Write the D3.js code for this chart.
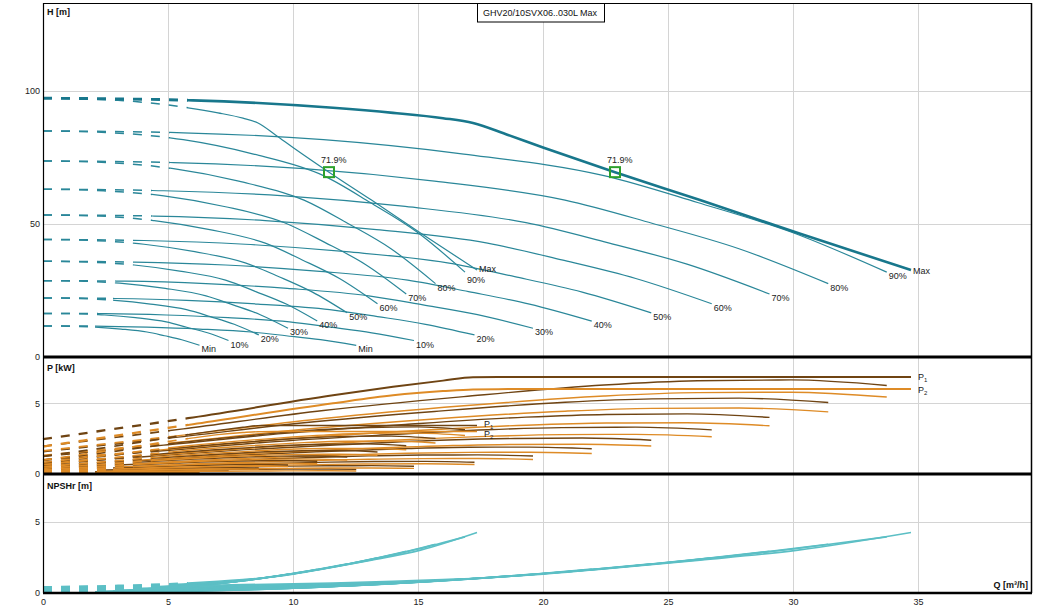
<!DOCTYPE html>
<html>
<head>
<meta charset="utf-8">
<script src="https://cdn.jsdelivr.net/npm/d3@7"></script>
<style>
body { margin: 0; background: #fff; }
svg { display: block; }
text { font-family: "Liberation Sans", Arial, sans-serif; }
</style>
</head>
<body>
<div id="chart"></div>
<script>
// speed levels, Min .. Max
var speeds = ["Min", "10%", "20%", "30%", "40%", "50%", "60%", "70%", "80%", "90%", "Max"];
// flow where the dashed (below minimum flow) part ends
var qStart = [2.08, 2.2, 2.8, 2.9, 3.6, 3.6, 4.36, 4.36, 5.08, 5.08, 5.8];

// flow points, one pump running [m3/h]
var qOne = [
    [0, 1.04, 2.08, 3.12, 4.16, 4.86, 5.55, 6.26],
    [0, 1.23, 2.47, 3.70, 4.93, 5.75, 6.58, 7.42],
    [0, 1.43, 2.87, 4.30, 5.74, 6.69, 7.65, 8.63],
    [0, 1.63, 3.26, 4.89, 6.52, 7.60, 8.69, 9.80],
    [0, 1.82, 3.65, 5.47, 7.30, 8.51, 9.73, 10.97],
    [0, 2.02, 4.04, 6.07, 8.09, 9.44, 10.78, 12.17],
    [0, 2.22, 4.45, 6.67, 8.89, 10.37, 11.86, 13.38],
    [0, 2.42, 4.83, 7.25, 9.66, 11.27, 12.88, 14.53],
    [0, 2.61, 5.22, 7.83, 10.44, 12.18, 13.92, 15.70],
    [0, 2.81, 5.61, 8.42, 11.22, 13.09, 14.96, 16.88],
    [0, 3, 5.8, 7, 8, 8.6, 9.3, 10, 11.44, 13.14, 15.1, 17.36]
];
// flow points, two pumps running [m3/h]
var qTwo = [
    [0, 2.08, 4.16, 6.25, 8.33, 9.72, 11.1, 12.53],
    [0, 2.47, 4.93, 7.40, 9.86, 11.51, 13.15, 14.84],
    [0, 2.87, 5.74, 8.60, 11.47, 13.38, 15.30, 17.26],
    [0, 3.26, 6.52, 9.77, 13.03, 15.20, 17.38, 19.60],
    [0, 3.65, 7.30, 10.94, 14.59, 17.02, 19.46, 21.95],
    [0, 4.04, 8.09, 12.13, 16.18, 18.87, 21.57, 24.33],
    [0, 4.45, 8.89, 13.34, 17.78, 20.75, 23.71, 26.75],
    [0, 4.83, 9.66, 14.49, 19.32, 22.54, 25.76, 29.06],
    [0, 5.22, 10.44, 15.66, 20.88, 24.36, 27.84, 31.41],
    [0, 5.61, 11.22, 16.83, 22.44, 26.18, 29.92, 33.75],
    [0, 6, 11.6, 14, 16, 17.2, 18.6, 20, 22.88, 26.28, 30.2, 34.72]
];
// head [m] at those points (same for one and two pumps)
var head = [
    [11.7, 11.6, 11.2, 10.5, 9.4, 8.0, 6.5, 4.4],
    [16.4, 16.3, 15.8, 14.8, 13.2, 11.2, 9.1, 6.2],
    [22.2, 22.0, 21.3, 19.9, 17.8, 15.2, 12.3, 8.3],
    [28.7, 28.5, 27.6, 25.8, 23.0, 19.6, 15.9, 10.8],
    [36.0, 35.7, 34.6, 32.3, 28.9, 24.6, 19.9, 13.5],
    [44.2, 43.8, 42.4, 39.6, 35.4, 30.2, 24.4, 16.6],
    [53.4, 53.0, 51.3, 47.9, 42.8, 36.5, 29.5, 20.0],
    [63.1, 62.5, 60.6, 56.6, 50.5, 43.1, 34.9, 23.7],
    [73.7, 73.1, 70.8, 66.1, 59.0, 50.3, 40.7, 27.6],
    [85.0, 84.3, 81.7, 76.3, 68.2, 58.1, 47.0, 31.9],
    [97.3, 96.5, 93.7, 91.8, 89.8, 88.0, 83.5, 78.8, 69.5, 59.0, 46.6, 32.7]
];
// power P1 / P2 [kW], one pump
var p1One = [
    [0.05, 0.09, 0.12, 0.15, 0.17, 0.18, 0.18, 0.17],
    [0.09, 0.14, 0.20, 0.24, 0.28, 0.29, 0.29, 0.28],
    [0.13, 0.21, 0.30, 0.37, 0.42, 0.44, 0.44, 0.42],
    [0.20, 0.32, 0.46, 0.56, 0.64, 0.67, 0.68, 0.64],
    [0.28, 0.46, 0.64, 0.78, 0.90, 0.94, 0.95, 0.90],
    [0.37, 0.61, 0.86, 1.05, 1.20, 1.26, 1.27, 1.20],
    [0.49, 0.79, 1.12, 1.36, 1.57, 1.64, 1.66, 1.56],
    [0.63, 1.02, 1.44, 1.75, 2.01, 2.10, 2.13, 2.00],
    [0.79, 1.29, 1.81, 2.21, 2.54, 2.66, 2.68, 2.52],
    [0.98, 1.59, 2.25, 2.74, 3.15, 3.29, 3.33, 3.13],
    [1.24, 2.0, 2.78, 3.08, 3.30, 3.42, 3.43, 3.43, 3.43, 3.43, 3.43, 3.43]
];
var p2One = [
    [0.03, 0.05, 0.08, 0.09, 0.11, 0.11, 0.11, 0.11],
    [0.06, 0.10, 0.14, 0.18, 0.20, 0.21, 0.21, 0.20],
    [0.10, 0.17, 0.24, 0.30, 0.34, 0.36, 0.36, 0.34],
    [0.16, 0.26, 0.37, 0.46, 0.52, 0.55, 0.55, 0.52],
    [0.22, 0.37, 0.52, 0.64, 0.74, 0.77, 0.77, 0.73],
    [0.30, 0.50, 0.71, 0.88, 1.00, 1.05, 1.05, 0.99],
    [0.40, 0.66, 0.95, 1.17, 1.33, 1.39, 1.40, 1.32],
    [0.51, 0.86, 1.23, 1.51, 1.73, 1.80, 1.81, 1.71],
    [0.66, 1.11, 1.58, 1.94, 2.22, 2.32, 2.33, 2.19],
    [0.82, 1.37, 1.96, 2.41, 2.75, 2.88, 2.89, 2.72],
    [0.97, 1.76, 2.50, 2.78, 2.93, 2.99, 3.0, 3.0, 3.0, 3.0, 3.0, 3.0]
];
// power P1 / P2 [kW], two pumps
var p1Two = [
    [0.10, 0.17, 0.24, 0.29, 0.33, 0.35, 0.35, 0.33],
    [0.17, 0.28, 0.40, 0.48, 0.56, 0.58, 0.59, 0.55],
    [0.26, 0.43, 0.60, 0.73, 0.84, 0.88, 0.89, 0.83],
    [0.40, 0.65, 0.91, 1.11, 1.28, 1.34, 1.35, 1.27],
    [0.56, 0.91, 1.29, 1.57, 1.80, 1.89, 1.90, 1.79],
    [0.75, 1.22, 1.72, 2.09, 2.40, 2.51, 2.54, 2.39],
    [0.98, 1.59, 2.24, 2.73, 3.13, 3.28, 3.31, 3.12],
    [1.25, 2.04, 2.87, 3.50, 4.02, 4.21, 4.25, 4.00],
    [1.58, 2.57, 3.62, 4.42, 5.07, 5.31, 5.36, 5.05],
    [1.96, 3.19, 4.49, 5.47, 6.29, 6.59, 6.65, 6.26],
    [2.47, 4.0, 5.56, 6.16, 6.6, 6.84, 6.86, 6.86, 6.86, 6.86, 6.86, 6.86]
];
var p2Two = [
    [0.06, 0.11, 0.15, 0.19, 0.21, 0.22, 0.23, 0.21],
    [0.12, 0.20, 0.29, 0.35, 0.40, 0.42, 0.42, 0.40],
    [0.20, 0.34, 0.48, 0.60, 0.68, 0.71, 0.72, 0.67],
    [0.31, 0.52, 0.74, 0.91, 1.04, 1.09, 1.10, 1.03],
    [0.44, 0.73, 1.05, 1.29, 1.47, 1.53, 1.54, 1.45],
    [0.59, 1.00, 1.43, 1.75, 2.00, 2.09, 2.10, 1.98],
    [0.79, 1.33, 1.90, 2.33, 2.66, 2.78, 2.80, 2.63],
    [1.02, 1.72, 2.46, 3.02, 3.45, 3.60, 3.62, 3.41],
    [1.32, 2.21, 3.16, 3.89, 4.44, 4.64, 4.67, 4.39],
    [1.63, 2.75, 3.92, 4.82, 5.51, 5.75, 5.78, 5.44],
    [1.94, 3.52, 5.0, 5.56, 5.86, 5.98, 6.0, 6.0, 6.0, 6.0, 6.0, 6.0]
];
// NPSHr [m] (same for one and two pumps)
var npsh = [
    [0.05, 0.06, 0.09, 0.13, 0.23, 0.32, 0.42, 0.54],
    [0.07, 0.09, 0.12, 0.19, 0.33, 0.45, 0.59, 0.76],
    [0.10, 0.12, 0.16, 0.25, 0.44, 0.60, 0.80, 1.03],
    [0.12, 0.15, 0.21, 0.32, 0.58, 0.78, 1.03, 1.33],
    [0.16, 0.19, 0.27, 0.41, 0.72, 0.98, 1.30, 1.67],
    [0.19, 0.24, 0.33, 0.50, 0.89, 1.20, 1.59, 2.04],
    [0.23, 0.29, 0.40, 0.60, 1.07, 1.45, 1.92, 2.47],
    [0.27, 0.34, 0.47, 0.71, 1.26, 1.72, 2.27, 2.92],
    [0.32, 0.39, 0.55, 0.83, 1.48, 2.01, 2.65, 3.41],
    [0.37, 0.45, 0.63, 0.96, 1.70, 2.32, 3.06, 3.93],
    [0.42, 0.52, 0.70, 0.82, 0.95, 1.02, 1.15, 1.32, 1.75, 2.30, 3.00, 4.23]
];

// duty points (efficiency markers)
var markerQ = [11.44, 22.88];
var markerH = [69.5, 69.5];
var markerLabel = ["71.9%", "71.9%"];

var qTicks = [0, 5, 10, 15, 20, 25, 30, 35];
var hTicks = [0, 50, 100];
var pTicks = [0, 5];
var nTicks = [0, 5];
var title = "GHV20/10SVX06..030L Max";

var width = 1048, height = 616;
var left = 43, right = 1031;
var hTop = 3, hBot = 357, pBot = 474, nBot = 593;

var x = d3.scaleLinear().domain([0, 39.52]).range([left, right]);
var yH = d3.scaleLinear().domain([0, 133.1]).range([hBot, hTop]);
var yP = d3.scaleLinear().domain([0, 8.27]).range([pBot, hBot]);
var yN = d3.scaleLinear().domain([0, 8.33]).range([nBot, pBot]);

var svg = d3.select("#chart").append("svg")
    .attr("width", width)
    .attr("height", height);

svg.append("rect").attr("width", width).attr("height", height).attr("fill", "#fff");

// clip paths splitting every curve into dashed and solid part
var defs = svg.append("defs");
qStart.forEach(function(q, i) {
    defs.append("clipPath").attr("id", "pre" + i).append("rect")
        .attr("x", 0).attr("y", 0).attr("width", x(q)).attr("height", height);
    defs.append("clipPath").attr("id", "post" + i).append("rect")
        .attr("x", x(q)).attr("y", 0).attr("width", width - x(q)).attr("height", height);
});

// grid
var grid = svg.append("g").attr("stroke", "#d4d4d4").attr("stroke-width", 1);
qTicks.slice(1).forEach(function(q) {
    grid.append("line")
        .attr("x1", Math.round(x(q)) + 0.5).attr("x2", Math.round(x(q)) + 0.5)
        .attr("y1", hTop).attr("y2", nBot);
});
[[yH, hTicks], [yP, pTicks], [yN, nTicks]].forEach(function(p) {
    p[1].slice(1).forEach(function(v) {
        grid.append("line")
            .attr("x1", left).attr("x2", right)
            .attr("y1", Math.round(p[0](v)) + 0.5).attr("y2", Math.round(p[0](v)) + 0.5);
    });
});

function drawCurve(g, qs, vs, yScale, i, color, w) {
    var line = d3.line()
        .x(function(j) { return x(qs[j]); })
        .y(function(j) { return yScale(vs[j]); })
        .curve(d3.curveMonotoneX);
    var d = line(d3.range(qs.length));
    g.append("path")
        .attr("d", d)
        .attr("clip-path", "url(#pre" + i + ")")
        .attr("fill", "none")
        .attr("stroke", color)
        .attr("stroke-width", w + 0.3)
        .attr("stroke-dasharray", "9,9");
    g.append("path")
        .attr("d", d)
        .attr("clip-path", "url(#post" + i + ")")
        .attr("fill", "none")
        .attr("stroke", color)
        .attr("stroke-width", w);
}

var last = speeds.length - 1;

// NPSH panel
var gN = svg.append("g");
speeds.forEach(function(s, i) {
    drawCurve(gN, qOne[i], npsh[i], yN, i, "#5cbfc5", 1.6);
    drawCurve(gN, qTwo[i], npsh[i], yN, i, "#5cbfc5", 1.6);
});

// power panel
var gP = svg.append("g");
speeds.forEach(function(s, i) {
    var w = i === last ? 2 : 1.4;
    drawCurve(gP, qOne[i], p1One[i], yP, i, "#6f4413", 1.4);
    drawCurve(gP, qOne[i], p2One[i], yP, i, "#de8b26", 1.4);
    drawCurve(gP, qTwo[i], p1Two[i], yP, i, "#6f4413", w);
    drawCurve(gP, qTwo[i], p2Two[i], yP, i, "#de8b26", w);
});

// head panel
var gH = svg.append("g");
speeds.forEach(function(s, i) {
    drawCurve(gH, qOne[i], head[i], yH, i, "#2a8799", 1.2);
    drawCurve(gH, qTwo[i], head[i], yH, i, i === last ? "#18778c" : "#2a8799", i === last ? 2.6 : 1.2);
});

// curve end labels
var labels = svg.append("g").attr("font-size", 9).attr("fill", "#222");
speeds.forEach(function(s, i) {
    [qOne[i], qTwo[i]].forEach(function(qs, k) {
        var n = qs.length - 1;
        var dy = i === last ? 4 : 7;
        // one-pump Max and 90% end close together: keep their labels apart
        if (k === 0 && i === last) dy = 2;
        if (k === 0 && i === last - 1) dy = 10.5;
        labels.append("text")
            .attr("x", x(qs[n]) + 2)
            .attr("y", yH(head[i][n]) + dy)
            .text(s);
    });
});

// P1 / P2 labels at the Max curves
[qOne[last], qTwo[last]].forEach(function(qs, k) {
    var n = qs.length - 1;
    var v1 = k === 0 ? p1One[last][n] : p1Two[last][n];
    var v2 = k === 0 ? p2One[last][n] : p2Two[last][n];
    [[v1, "1", k === 0 ? 1.5 : 3.5], [v2, "2", k === 0 ? 5.5 : 3.5]].forEach(function(p) {
        var t = labels.append("text")
            .attr("x", x(qs[n]) + 7)
            .attr("y", yP(p[0]) + p[2])
            .text("P");
        t.append("tspan").attr("font-size", 6).attr("dy", 2).text(p[1]);
    });
});

// duty point markers
markerQ.forEach(function(q, i) {
    svg.append("rect")
        .attr("x", x(q) - 5).attr("y", yH(markerH[i]) - 5)
        .attr("width", 10).attr("height", 10)
        .attr("fill", "none").attr("stroke", "#2ca02c").attr("stroke-width", 2);
    labels.append("text")
        .attr("x", x(q) - 8).attr("y", yH(markerH[i]) - 9)
        .text(markerLabel[i]);
});

// frame and panel separators
var frame = svg.append("g").attr("stroke", "#000");
frame.append("line").attr("x1", left).attr("x2", right).attr("y1", hTop + 0.5).attr("y2", hTop + 0.5).attr("stroke-width", 1);
frame.append("line").attr("x1", left + 0.5).attr("x2", left + 0.5).attr("y1", hTop).attr("y2", nBot).attr("stroke-width", 1.2);
frame.append("line").attr("x1", right + 0.5).attr("x2", right + 0.5).attr("y1", hTop).attr("y2", nBot).attr("stroke-width", 1.5);
[hBot, pBot].forEach(function(y) {
    frame.append("line").attr("x1", left).attr("x2", right + 1).attr("y1", y).attr("y2", y).attr("stroke-width", 3);
});
frame.append("line").attr("x1", left).attr("x2", right + 1).attr("y1", nBot).attr("y2", nBot).attr("stroke-width", 2.5);

// axes
function styleAxis(g) {
    g.select(".domain").remove();
    g.selectAll("text").attr("font-size", 9).attr("fill", "#222")
        .attr("font-family", "'Liberation Sans', Arial, sans-serif");
}
svg.append("g").attr("transform", "translate(0," + nBot + ")")
    .call(d3.axisBottom(x).tickValues(qTicks).tickSize(0).tickPadding(6))
    .call(styleAxis);
svg.append("g").attr("transform", "translate(" + left + ",0)")
    .call(d3.axisLeft(yH).tickValues(hTicks).tickSize(0).tickPadding(3))
    .call(styleAxis);
svg.append("g").attr("transform", "translate(" + left + ",0)")
    .call(d3.axisLeft(yP).tickValues(pTicks).tickSize(0).tickPadding(3))
    .call(styleAxis);
svg.append("g").attr("transform", "translate(" + left + ",0)")
    .call(d3.axisLeft(yN).tickValues(nTicks).tickSize(0).tickPadding(3))
    .call(styleAxis);

// axis titles
var titles = svg.append("g").attr("font-size", 9).attr("font-weight", "bold").attr("fill", "#111");
titles.append("text").attr("x", left + 4).attr("y", 15).text("H [m]");
titles.append("text").attr("x", left + 4).attr("y", 371).text("P [kW]");
titles.append("text").attr("x", left + 4).attr("y", 489).text("NPSHr [m]");
titles.append("text").attr("x", right - 3).attr("y", 588).attr("text-anchor", "end").text("Q [m³/h]");

// title box
var tg = svg.append("g");
var tt = tg.append("text")
    .attr("x", 540).attr("y", 16)
    .attr("text-anchor", "middle")
    .attr("font-size", 9)
    .attr("fill", "#111")
    .text(title);
var bb = tt.node().getBBox();
tg.insert("rect", "text")
    .attr("x", Math.round(bb.x - 6) + 0.5).attr("y", hTop + 0.5)
    .attr("width", Math.round(bb.width + 12)).attr("height", 18.5)
    .attr("fill", "#fff").attr("stroke", "#000").attr("stroke-width", 1);
</script>
</body>
</html>
